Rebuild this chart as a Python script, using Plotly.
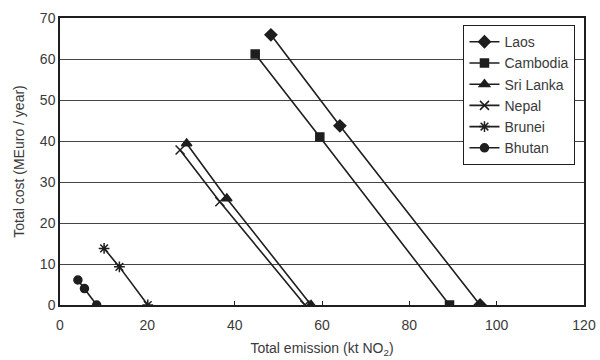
import plotly.graph_objects as go

countries = ["Laos", "Cambodia", "Sri Lanka", "Nepal", "Brunei", "Bhutan"]
emission = [
    [48.3, 64.1, 96.2],
    [44.7, 59.5, 89.2],
    [29.0, 38.2, 57.5],
    [27.5, 36.6, 56.1],
    [10.1, 13.6, 20.1],
    [4.1, 5.6, 8.4],
]
cost = [
    [65.9, 43.7, 0],
    [61.2, 41.0, 0],
    [39.4, 26.0, 0],
    [37.8, 25.2, 0],
    [13.8, 9.3, 0],
    [6.1, 4.0, 0],
]
symbols = ["diamond", "square", "triangle-up", "x-thin-open", "asterisk-open", "circle"]
sizes = [9, 8, 9, 9, 9, 8]
x_ticks = [0, 20, 40, 60, 80, 100, 120]
y_ticks = [0, 10, 20, 30, 40, 50, 60, 70]

ink = "#1e1e1e"
fig = go.Figure()
for name, xs, ys, sym, sz in zip(countries, emission, cost, symbols, sizes):
    fig.add_trace(go.Scatter(
        x=xs, y=ys, name=name, mode="lines+markers",
        line=dict(color=ink, width=1.6),
        marker=dict(symbol=sym, size=sz, color=ink, line=dict(color=ink, width=1.5)),
    ))

fig.update_layout(
    width=600, height=360,
    margin=dict(l=60, r=16, t=18, b=55, autoexpand=False),
    paper_bgcolor="white", plot_bgcolor="white",
    font=dict(family="Liberation Sans, Arial, sans-serif", size=14, color="#3a3a3a"),
    showlegend=True,
    legend=dict(x=0.77, y=0.975, xanchor="left", yanchor="top",
                bordercolor=ink, borderwidth=1, bgcolor="white",
                font=dict(size=14, color="#3a3a3a"), tracegroupgap=0,
                itemwidth=30),
)
fig.update_xaxes(
    range=[0, 120], tickvals=x_ticks, showgrid=False, zeroline=False,
    showline=True, linecolor=ink, linewidth=1.5, mirror=True, automargin=False,
    ticks="inside", ticklen=4, tickcolor=ink, ticklabelstandoff=6,
    ticklabeloverflow="allow",
    title=dict(text="Total emission (kt NO<sub>2</sub>)", standoff=12,
               font=dict(size=14)),
)
fig.update_yaxes(
    range=[0, 70], tickvals=y_ticks, showgrid=True, gridcolor="#444", gridwidth=1,
    zeroline=False, showline=True, linecolor=ink, linewidth=1.5, mirror=True,
    automargin=False, ticks="",
    title=dict(text="Total cost (MEuro / year)", standoff=12, font=dict(size=14)),
)
fig.write_html("out.html", config={"displayModeBar": False},
               post_script="document.body.style.margin='0';")
